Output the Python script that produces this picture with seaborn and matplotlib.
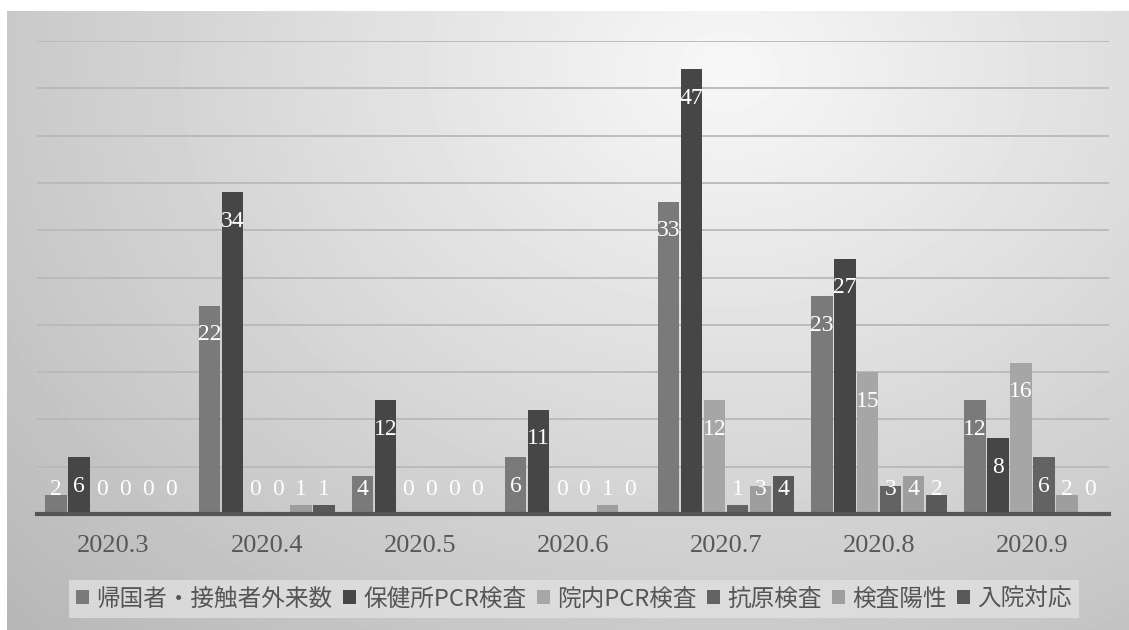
import numpy as np
import pandas as pd
import matplotlib
matplotlib.use("Agg")
import matplotlib.pyplot as plt
import seaborn as sns

months = ["2020.3", "2020.4", "2020.5", "2020.6", "2020.7", "2020.8", "2020.9"]
series = ["帰国者・接触者外来数", "保健所PCR検査", "院内PCR検査", "抗原検査", "検査陽性", "入院対応"]
v_kikoku = [2, 22, 4, 6, 33, 23, 12]
v_hokenjo = [6, 34, 12, 11, 47, 27, 8]
v_innai = [0, 0, 0, 0, 12, 15, 16]
v_kougen = [0, 0, 0, 0, 1, 3, 6]
v_yousei = [0, 1, 0, 1, 3, 4, 2]
v_nyuin = [0, 1, 0, 0, 4, 2, 0]
colors = ["#7a7a7a", "#464646", "#a6a6a6", "#636363", "#9e9e9e", "#595959"]

sns.set_theme(style="white")
plt.rcParams["font.family"] = ["Noto Sans CJK JP", "DejaVu Sans"]

rows = []
for s, vals in zip(series, [v_kikoku, v_hokenjo, v_innai, v_kougen, v_yousei, v_nyuin]):
    for m, v in zip(months, vals):
        rows.append({"month": m, "series": s, "value": v})
df = pd.DataFrame(rows)

W, H = 1129, 630
fig = plt.figure(figsize=(W / 100, H / 100), dpi=100)
fig.patch.set_facecolor("white")

# gradient background panel
bg = fig.add_axes([7 / W, 0, 1 - 7 / W, (H - 11) / H], zorder=-10)
yy, xx = np.mgrid[0:619, 0:1122]
cx, cy = 720, 60
d = np.sqrt(((xx - cx) / 950.0) ** 2 + ((yy - cy) / 750.0) ** 2)
img = np.clip(0.97 - 0.24 * d, 0.68, 1.0)
bg.imshow(img, cmap="gray", vmin=0, vmax=1, aspect="auto", interpolation="bilinear")
bg.set_axis_off()

ax = fig.add_axes([37 / W, (H - 514) / H, 1072 / W, (514 - 41) / H])
ax.set_facecolor("none")
sns.barplot(data=df, x="month", y="value", hue="series", hue_order=series,
            palette=colors, saturation=1, width=0.9, gap=0.07, ax=ax,
            errorbar=None, zorder=3, linewidth=0)

ax.set_ylim(0, 50)
ax.set_yticks(np.arange(0, 51, 5))
ax.yaxis.grid(True, color="#b9b9b9", linewidth=1.3, zorder=0)
ax.set_axisbelow(True)
ax.tick_params(axis="y", left=False, labelleft=False)
ax.tick_params(axis="x", length=0, pad=15, labelsize=19, labelcolor="#585858")
for lbl in ax.get_xticklabels():
    lbl.set_fontfamily("Liberation Serif")
ax.set_xlabel("")
ax.set_ylabel("")
for sp in ["top", "right", "left"]:
    ax.spines[sp].set_visible(False)
ax.spines["bottom"].set_color("#555555")
ax.spines["bottom"].set_linewidth(3)
ax.spines["bottom"].set_zorder(5)

for cont in ax.containers:
    for p in cont.patches:
        v = p.get_height()
        x = p.get_x() + p.get_width() / 2
        y = max(v - 3.06, 2.55)
        ax.text(x, y, f"{int(round(v))}", ha="center", va="center", color="white",
                fontsize=17, fontfamily="Liberation Serif", zorder=6)

handles, labels = ax.get_legend_handles_labels()
ax.get_legend().remove()
leg = fig.legend(handles, labels, loc="center", bbox_to_anchor=(574 / W, 1 - 599 / H),
                 ncol=6, frameon=True, fontsize=17, handlelength=0.55, handleheight=0.55,
                 handletextpad=0.3, columnspacing=0.45, borderpad=0.3, fancybox=False,
                 labelcolor="#555555")
leg.get_frame().set_facecolor("#e2e2e2")
leg.get_frame().set_alpha(0.75)
leg.get_frame().set_edgecolor("none")

fig.savefig("out.png", dpi=100)
